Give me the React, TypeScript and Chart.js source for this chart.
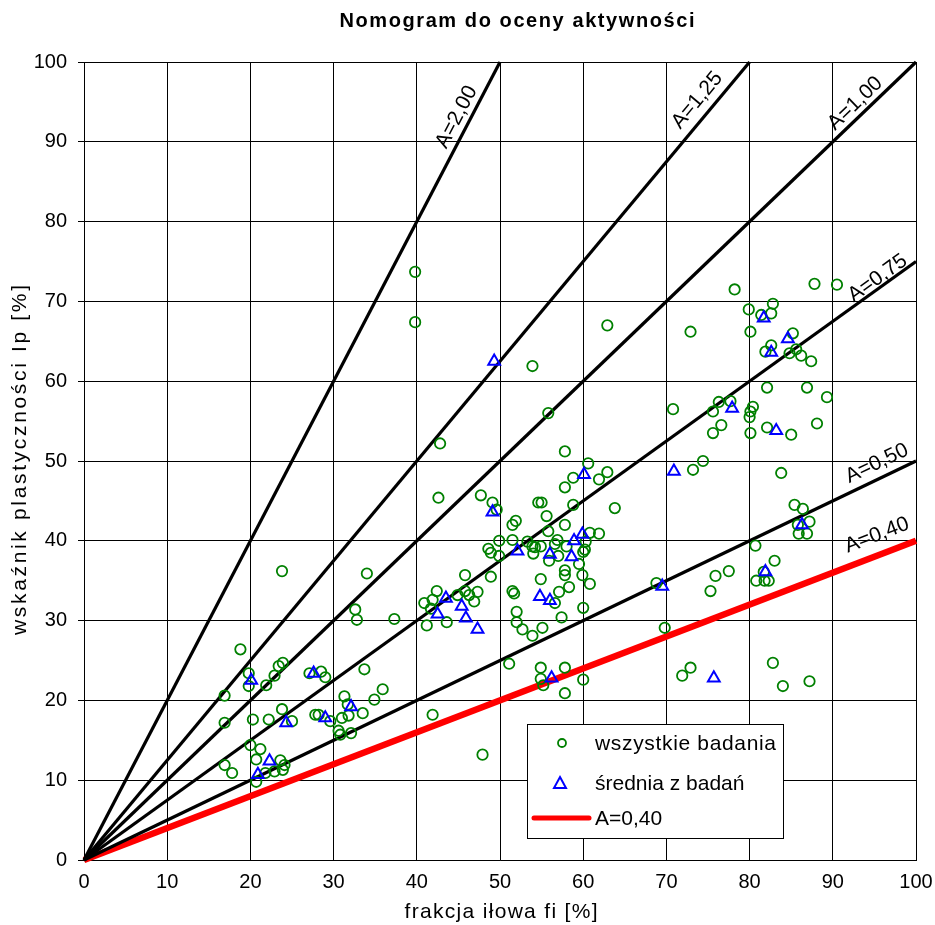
import React, { useEffect, useRef } from "react";
import { Chart, registerables } from "chart.js";
Chart.register(...registerables);

const FONT = "'Liberation Sans', Arial, sans-serif";

const titleText = "Nomogram do oceny aktywności";
const xTitle = "frakcja iłowa fi [%]";
const yTitle = "wskaźnik plastyczności Ip [%]";
const legendAll = "wszystkie badania";
const legendMean = "średnia z badań";
const legendRed = "A=0,40";

// wszystkie badania
const allX = [
  23.8, 34.0, 32.6, 32.8, 37.3, 18.8, 19.8, 19.8, 21.9, 22.9, 23.4, 23.9, 27.1, 28.5, 29.0, 33.7,
  16.9, 16.9, 20.3, 22.2, 23.8, 25.0, 27.8, 28.2, 29.6, 31.3, 31.7, 33.5, 34.9, 35.9, 31.0, 31.8,
  30.6, 30.8, 32.1, 20.0, 21.2, 20.7, 16.9, 17.8, 20.7, 21.8, 22.9, 23.6, 24.1, 23.9,
  42.8, 57.8, 60.6, 62.9, 61.9, 58.8, 57.8, 42.6, 47.7, 49.1, 49.6, 54.6, 55.0, 58.8, 63.8, 55.6,
  51.9, 51.5, 55.8, 57.8, 60.8, 61.9, 60.3, 60.0, 60.2, 59.5, 56.9, 56.6, 58.0, 57.0, 55.9, 54.9,
  54.2, 53.9, 54.0, 53.3, 51.5, 49.9, 48.6, 48.9, 49.9, 48.9, 45.8, 57.8, 57.8, 59.9, 60.8, 58.3,
  57.1, 54.9, 56.6, 51.5, 51.7, 60.0, 57.4, 52.0, 52.0, 52.7, 53.9, 55.1, 42.4, 45.8, 46.3, 47.3,
  46.9, 44.9, 41.9, 40.9, 41.7, 43.6, 41.2, 51.1, 54.9, 57.8, 54.9, 55.2, 60.0, 57.8, 41.9, 47.9,
  78.2, 87.8, 90.5, 82.8, 79.9, 82.6, 81.4, 72.9, 80.1, 85.2, 82.6, 81.9, 84.8, 85.6, 86.2, 87.4,
  82.1, 86.9, 89.3, 70.8, 76.3, 75.6, 77.7, 80.4, 80.1, 80.0, 76.6, 75.6, 80.1, 82.1, 85.0, 88.1,
  74.4, 73.2, 83.8,
  85.4, 86.4, 87.2, 85.8, 85.9, 86.9, 80.7, 83.0, 81.7, 80.8, 81.8, 82.3, 77.5, 75.9, 75.3, 68.8,
  69.8, 72.9, 71.9, 82.8, 84.0, 87.2,
  39.8, 39.8, 62.9, 53.9, 55.8,
];
const allY = [
  36.2, 35.9, 31.4, 30.1, 30.2, 26.4, 23.4, 21.8, 21.9, 23.1, 24.3, 24.7, 23.4, 23.6, 22.9, 23.9,
  20.6, 17.2, 17.6, 17.6, 18.9, 17.4, 18.2, 18.2, 17.4, 20.5, 19.5, 18.4, 20.1, 21.4, 17.8, 18.1,
  16.2, 15.7, 15.9, 14.4, 13.9, 12.6, 11.9, 10.9, 9.8, 10.9, 11.1, 12.5, 11.9, 11.3,
  52.2, 51.2, 49.7, 48.6, 47.7, 47.9, 46.7, 45.4, 45.7, 44.8, 43.9, 44.8, 44.8, 44.5, 44.1, 43.1,
  42.5, 42.0, 41.2, 42.0, 41.0, 40.9, 39.9, 38.6, 38.9, 37.1, 40.1, 39.6, 39.3, 38.1, 37.5, 39.3,
  39.2, 39.3, 38.4, 39.9, 40.1, 40.0, 39.0, 38.5, 38.1, 35.5, 35.7, 36.3, 35.7, 35.7, 34.6, 34.2,
  33.6, 35.2, 32.2, 33.7, 33.4, 31.6, 30.4, 31.1, 29.8, 28.9, 28.1, 29.1, 33.7, 33.7, 33.2, 33.6,
  32.4, 33.2, 32.6, 32.2, 31.5, 29.8, 29.4, 24.6, 24.1, 24.1, 22.7, 21.9, 22.6, 20.9, 18.2, 13.2,
  71.5, 72.2, 72.1, 69.7, 69.0, 68.5, 68.3, 66.2, 66.2, 66.0, 64.5, 63.7, 63.5, 64.0, 63.2, 62.5,
  59.2, 59.2, 58.0, 56.5, 57.4, 56.2, 57.5, 56.8, 56.2, 55.5, 54.5, 53.5, 53.5, 54.2, 53.3, 54.7,
  50.0, 48.9, 48.5,
  44.5, 44.0, 42.4, 42.0, 40.9, 40.9, 39.4, 37.5, 36.1, 35.0, 35.0, 35.0, 36.2, 35.6, 33.7, 34.7,
  29.1, 24.1, 23.1, 24.7, 21.8, 22.4,
  73.7, 67.4, 67.0, 61.9, 56.0,
];

// średnia z badań
const meanX = [
  20.1, 27.6, 24.3, 29.0, 32.1, 22.3, 20.9, 60.1, 49.1, 59.9, 58.9, 58.6, 56.0, 52.1, 54.8, 56.0,
  43.5, 45.4, 42.5, 45.9, 47.3, 56.2, 49.3, 81.7, 84.6, 82.6, 77.9, 83.2, 70.9, 86.3, 81.9, 69.5, 75.7,
];
const meanY = [
  22.5, 23.4, 17.2, 17.8, 19.2, 12.4, 10.7, 48.3, 43.6, 40.8, 40.0, 38.0, 38.3, 38.7, 33.0, 32.5,
  32.8, 31.8, 30.8, 30.3, 28.9, 22.8, 62.5, 67.9, 65.3, 63.6, 56.6, 53.8, 48.7, 42.0, 36.1, 34.3, 22.8,
];

// lines A = Ip / fi, from origin to the end points
const lineLabels = ["A=2,00", "A=1,25", "A=1,00", "A=0,75", "A=0,50", "A=0,40"];
const lineEndX = [50, 80, 100, 100, 100, 100];
const lineEndY = [100, 100, 100, 75, 50, 40];
const labelPosX = [44.8, 73.7, 92.7, 95.4, 95.3, 95.3];
const labelPosY = [93.1, 95.2, 94.8, 72.9, 49.7, 40.7];

function spacedText(ctx: any, text: string, cx: number, cy: number, target: number) {
  ctx.letterSpacing = "0px";
  const w = ctx.measureText(text).width;
  const sp = Math.max(0, (target - w) / Math.max(1, text.length - 1));
  ctx.letterSpacing = `${sp}px`;
  ctx.textAlign = "left";
  ctx.fillText(text, cx - target / 2, cy);
  ctx.letterSpacing = "0px";
}

const textPlugin = {
  id: "textPlugin",
  afterDatasetsDraw(chart: any) {
    const { ctx, scales } = chart;
    const xs = scales.x, ys = scales.y;
    ctx.save();
    ctx.fillStyle = "#000";
    ctx.font = `21px ${FONT}`;
    ctx.textAlign = "center";
    ctx.textBaseline = "middle";
    for (let i = 0; i < lineLabels.length; i++) {
      const x0 = xs.getPixelForValue(0), y0 = ys.getPixelForValue(0);
      const x1 = xs.getPixelForValue(lineEndX[i]), y1 = ys.getPixelForValue(lineEndY[i]);
      const ang = Math.atan2(y1 - y0, x1 - x0);
      const px = xs.getPixelForValue(labelPosX[i]);
      const py = ys.getPixelForValue(labelPosY[i]);
      ctx.save();
      ctx.translate(px, py);
      ctx.rotate(ang);
      ctx.fillText(lineLabels[i], 0, 0);
      ctx.restore();
    }
    ctx.restore();
  },
  afterDraw(chart: any) {
    const { ctx } = chart;
    ctx.save();
    // legend box
    const bx = 527, by = 724, bw = 256, bh = 114;
    ctx.fillStyle = "#fff";
    ctx.fillRect(bx, by, bw, bh);
    ctx.strokeStyle = "#000";
    ctx.lineWidth = 1;
    ctx.strokeRect(bx + 0.5, by + 0.5, bw, bh);
    // circle
    ctx.strokeStyle = "#008000";
    ctx.lineWidth = 1.8;
    ctx.beginPath();
    ctx.arc(562, 743, 4, 0, Math.PI * 2);
    ctx.stroke();
    // triangle
    ctx.strokeStyle = "#0000ff";
    ctx.lineWidth = 2;
    ctx.beginPath();
    ctx.moveTo(560, 777);
    ctx.lineTo(566, 788);
    ctx.lineTo(554, 788);
    ctx.closePath();
    ctx.stroke();
    // red line
    ctx.strokeStyle = "#ff0000";
    ctx.lineWidth = 5;
    ctx.lineCap = "round";
    ctx.beginPath();
    ctx.moveTo(534, 818);
    ctx.lineTo(589, 818);
    ctx.stroke();
    ctx.fillStyle = "#000";
    ctx.font = `21px ${FONT}`;
    ctx.textAlign = "left";
    ctx.textBaseline = "middle";
    spacedText(ctx, legendAll, 595 + 181 / 2, 744, 181);
    ctx.fillText(legendMean, 595, 784);
    ctx.fillText(legendRed, 595, 819);
    // title
    ctx.font = `bold 20px ${FONT}`;
    spacedText(ctx, titleText, 517, 21, 355);
    // x title
    ctx.font = `21px ${FONT}`;
    spacedText(ctx, xTitle, 501, 912, 193);
    // y title
    ctx.save();
    ctx.translate(20, 460);
    ctx.rotate(-Math.PI / 2);
    spacedText(ctx, yTitle, 0, 0, 350);
    ctx.restore();
    ctx.restore();
  },
};

export default function App() {
  const ref = useRef<HTMLCanvasElement | null>(null);
  useEffect(() => {
    if (!ref.current) return;
    const allData = allX.map((x, i) => ({ x, y: allY[i] }));
    const meanData = meanX.map((x, i) => ({ x, y: meanY[i] }));
    const lineSets = lineLabels.map((lab, i) => ({
      type: "line" as const,
      label: lab,
      data: [{ x: 0, y: 0 }, { x: lineEndX[i], y: lineEndY[i] }],
      borderColor: i === 5 ? "#ff0000" : "#000000",
      borderWidth: i === 5 ? 6.5 : 3.2,
      pointRadius: 0,
      showLine: true,
      fill: false,
      order: 2,
      clip: false as any,
    }));
    const chart = new Chart(ref.current, {
      type: "scatter",
      data: {
        datasets: [
          ...lineSets,
          {
            label: legendAll,
            data: allData,
            pointStyle: "circle",
            pointRadius: 5.2,
            pointBorderWidth: 1.8,
            pointBorderColor: "#008000",
            pointBackgroundColor: "rgba(0,0,0,0)",
            showLine: false,
            order: 1,
          } as any,
          {
            label: legendMean,
            data: meanData,
            pointStyle: "triangle",
            pointRadius: 6.8,
            pointBorderWidth: 2,
            pointBorderColor: "#0000ff",
            pointBackgroundColor: "rgba(0,0,0,0)",
            showLine: false,
            order: 0,
          } as any,
        ],
      },
      options: {
        animation: false,
        responsive: false,
        devicePixelRatio: 1,
        layout: { padding: { top: 62, right: 19, left: 0, bottom: 0 } },
        plugins: { legend: { display: false }, tooltip: { enabled: false }, title: { display: false } },
        scales: {
          x: {
            type: "linear",
            min: 0,
            max: 100,
            afterFit: (s: any) => { s.height = 65; s.paddingRight = 0; s.paddingLeft = 0; },
            ticks: { stepSize: 10, color: "#000", font: { family: FONT, size: 20 }, padding: 10, maxRotation: 0 },
            grid: { color: "#000", lineWidth: 1, drawTicks: false },
            border: { color: "#000", width: 1 },
          },
          y: {
            type: "linear",
            min: 0,
            max: 100,
            afterFit: (s: any) => { s.width = 84; s.paddingTop = 0; s.paddingBottom = 0; },
            ticks: { stepSize: 10, color: "#000", font: { family: FONT, size: 20 }, padding: 11 },
            grid: { color: "#000", lineWidth: 1, drawTicks: true, tickLength: 6 },
            border: { color: "#000", width: 1 },
          },
        },
      },
      plugins: [textPlugin],
    });
    return () => chart.destroy();
  }, []);
  return (
    <div style={{ position: "absolute", left: 0, top: 0, width: 935, height: 925, background: "#fff" }}>
      <canvas ref={ref} width={935} height={925} style={{ width: 935, height: 925 }} />
    </div>
  );
}
